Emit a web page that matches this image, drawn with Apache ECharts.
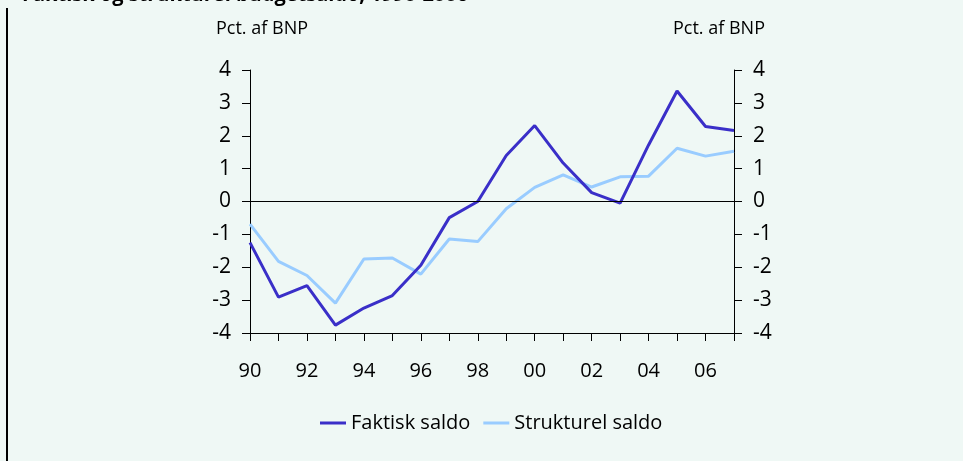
<!DOCTYPE html>
<html>
<head>
<meta charset="utf-8">
<script src="https://cdn.jsdelivr.net/npm/echarts@6/dist/echarts.min.js"></script>
<style>
  html, body { margin: 0; padding: 0; background: #eff8f5; }
  #chart { width: 963px; height: 461px; }
</style>
</head>
<body>
<div id="chart"></div>
<script>
// årstal (x-akse)
var years = ["90", "91", "92", "93", "94", "95", "96", "97", "98", "99",
  "00", "01", "02", "03", "04", "05", "06", "07"];
// faktisk saldo, pct. af BNP
var faktisk = [-1.25, -2.91, -2.56, -3.76, -3.24, -2.86, -1.94, -0.49, 0.0, 1.40,
  2.31, 1.17, 0.27, -0.05, 1.72, 3.36, 2.28, 2.16];
// strukturel saldo, pct. af BNP
var strukturel = [-0.69, -1.82, -2.25, -3.09, -1.75, -1.72, -2.21, -1.14, -1.22, -0.22,
  0.43, 0.81, 0.44, 0.75, 0.77, 1.62, 1.38, 1.53];
var yTicks = { min: -4, max: 4, interval: 1 };

var font = "'Open Sans', sans-serif";
var myChart = echarts.init(document.getElementById("chart"));

var yAxisBase = {
  type: "value",
  min: yTicks.min,
  max: yTicks.max,
  interval: yTicks.interval,
  axisLine: { show: true, lineStyle: { color: "#000", width: 1 } },
  axisTick: { show: true, length: 8, lineStyle: { color: "#000" } },
  splitLine: { show: false },
  axisLabel: { color: "#000", fontSize: 21, fontFamily: font, margin: 19 },
};

var option = {
  backgroundColor: "#eff8f5",
  animation: false,
  grid: { left: 250, right: 229, top: 70, bottom: 128 },
  legend: {
    left: 315,
    top: 408,
    icon: "rect",
    itemWidth: 26,
    itemHeight: 3,
    itemGap: 13,
    textStyle: { color: "#000", fontSize: 20, fontFamily: font },
    data: ["Faktisk saldo", "Strukturel saldo"],
  },
  graphic: [
    // afskåret titel øverst
    {
      type: "text", left: 22, top: -15,
      style: { text: "Faktisk og strukturel budgetsaldo, 1990-2006", font: "bold 20px " + font, fill: "#000" },
    },
    {
      type: "text", left: 216, top: 20,
      style: { text: "Pct. af BNP", font: "18px " + font, fill: "#000" },
    },
    {
      type: "text", right: 198, top: 20,
      style: { text: "Pct. af BNP", font: "18px " + font, fill: "#000" },
    },
    // venstre kant
    {
      type: "line",
      shape: { x1: 7, y1: 8, x2: 7, y2: 461 },
      style: { stroke: "#000", lineWidth: 2 },
    },
  ],
  xAxis: {
    type: "category",
    data: years,
    boundaryGap: false,
    axisLine: { show: true, onZero: false, lineStyle: { color: "#000", width: 1 } },
    axisTick: { show: true, length: 8, interval: 0, lineStyle: { color: "#000" } },
    axisLabel: { interval: 1, color: "#000", fontSize: 20, fontFamily: font, margin: 28 },
    splitLine: { show: false },
  },
  yAxis: [
    Object.assign({}, yAxisBase, { position: "left" }),
    Object.assign({}, yAxisBase, { position: "right" }),
  ],
  series: [
    {
      name: "Faktisk saldo",
      type: "line",
      data: faktisk,
      symbol: "none",
      lineStyle: { color: "#3a2fc8", width: 3 },
      itemStyle: { color: "#3a2fc8" },
      z: 3,
      markLine: {
        silent: true,
        symbol: "none",
        label: { show: false },
        lineStyle: { color: "#000", width: 1, type: "solid" },
        data: [{ yAxis: 0 }],
      },
    },
    {
      name: "Strukturel saldo",
      type: "line",
      data: strukturel,
      symbol: "none",
      lineStyle: { color: "#99ccff", width: 3 },
      itemStyle: { color: "#99ccff" },
      z: 2,
    },
  ],
};
option && myChart.setOption(option);
</script>
</body>
</html>
